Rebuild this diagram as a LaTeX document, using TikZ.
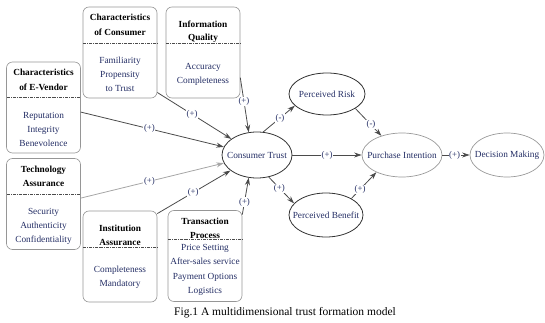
\documentclass[tikz,border=0pt]{standalone}
\usepackage{fontspec}
\setmainfont{Liberation Serif}
\usetikzlibrary{arrows.meta,shapes.geometric}
\definecolor{navy}{RGB}{35,45,100}
\definecolor{edge}{RGB}{75,75,75}
\definecolor{boxline}{RGB}{150,150,150}
\newcommand\nowidth[1]{\makebox[0pt]{#1}}
\begin{document}
\begin{tikzpicture}[x=1pt,y=-1pt,
  cbox/.style={draw=boxline, line width=0.6pt, rounded corners=6pt, inner sep=0pt, minimum width=74pt, minimum height=91pt},
  hdr/.style={font=\fontsize{9.3}{15}\selectfont\bfseries, align=center, inner sep=0pt},
  bdy/.style={font=\fontsize{9.3}{14}\selectfont, text=navy, align=center, inner sep=0pt},
  divl/.style={draw=black!70, line width=0.5pt, dash pattern=on 3pt off 1pt on 0.8pt off 1pt},
  ell/.style={ellipse, draw=black!80, line width=0.8pt, inner sep=0pt, font=\fontsize{9.3}{11}\selectfont, text=navy},
  lell/.style={ell, draw=black!40, line width=0.7pt},
  conn/.style={draw=edge, line width=0.8pt, -{Stealth[length=7.5pt,width=5pt]}},
  lbl/.style={fill=white, inner sep=0.6pt, font=\fontsize{8.8}{10}\selectfont, text=navy}
]
\useasboundingbox (0,0) rectangle (545,323);

% Characteristics of Consumer
\node[cbox] (cc) at (120,52.5) {};
\node[hdr] (cch) at (120,24.5) {Characteristics\\of Consumer};
\draw[divl] (83,43) -- (157,43);
\node[bdy] (ccb) at (120,74) {Familiarity\\Propensity\\to Trust};

% Information Quality
\node[cbox] (iq) at (203,52.5) {};
\node[hdr, font=\fontsize{9.3}{13}\selectfont\bfseries] (iqh) at (203,31.5) {Information\\Quality};
\draw[divl] (166,43) -- (240,43);
\node[bdy] (iqb) at (203,74) {Accuracy\\Completeness};

% Characteristics of E-Vendor
\node[cbox] (ev) at (43.5,107.5) {};
\node[hdr] (evh) at (43.5,79.5) {Characteristics\\of E-Vendor};
\draw[divl] (7,97) -- (80,97);
\node[bdy] (evb) at (43.5,129.5) {Reputation\\Integrity\\Benevolence};

% Technology Assurance
\node[cbox] (ta) at (43.5,204) {};
\node[hdr, font=\fontsize{9.3}{14}\selectfont\bfseries] (tah) at (43.5,176) {Technology\\Assurance};
\draw[divl] (7,194) -- (80,194);
\node[bdy] (tab) at (43.5,226) {Security\\Authenticity\\Confidentiality};

% Institution Assurance
\node[cbox] (ia) at (120,256.5) {};
\node[hdr, font=\fontsize{9.3}{14}\selectfont\bfseries] (iah) at (120,235) {Institution\\Assurance};
\draw[divl] (83,247) -- (157,247);
\node[bdy] (iab) at (120,277) {Completeness\\Mandatory};

% Transaction Process
\node[cbox] (tp) at (205,256) {};
\node[hdr, font=\fontsize{9.3}{14}\selectfont\bfseries] (tph) at (205,228) {Transaction\\Process};
\draw[divl] (168,239) -- (242,239);
\node[bdy, font=\fontsize{9.3}{14.2}\selectfont] (tpb) at (205,270) {Price Setting\\After-sales service\\Payment Options\\Logistics};

% Ellipses
\node[ell, minimum width=70pt, minimum height=46pt] (ct) at (257,155) {\nowidth{Consumer Trust}};
\node[ell, minimum width=76pt, minimum height=42pt] (pr) at (327,94) {\nowidth{Perceived Risk}};
\node[ell, minimum width=74pt, minimum height=44pt] (pb) at (326,215) {\nowidth{Perceived Benefit}};
\node[lell, minimum width=80pt, minimum height=44pt] (pi) at (402,155) {\nowidth{Purchase Intention}};
\node[lell, minimum width=74pt, minimum height=44pt] (dm) at (507,155) {\nowidth{Decision Making}};

% Connectors
\draw[conn] (ev.-7) -- node[lbl,pos=0.48]{(+)} (ct);
\draw[conn] (cc.-47.6) -- node[lbl,pos=0.47]{(+)} (ct);
\draw[conn] (iq.-34) -- node[lbl,pos=0.43]{(+)} (ct.110);
\draw[conn, draw=black!35] (ta.9) -- node[lbl,pos=0.48]{(+)} (ct);
\draw[conn] (ia.49) -- node[lbl,pos=0.49]{(+)} (ct);
\draw[conn] (tp.48) -- node[lbl,pos=0.34]{(+)} (ct.-110);
\draw[conn] (ct.75) -- node[lbl,pos=0.53]{(-)} (pr.200);
\draw[conn] (ct.-62) -- node[lbl,pos=0.42]{(+)} (pb.160);
\draw[conn] (ct) -- node[lbl,pos=0.5]{(+)} (pi);
\draw[conn] (pr.-27) -- node[lbl,pos=0.6]{(-)} (pi.137);
\draw[conn] (pb.33) -- node[lbl,pos=0.35]{(+)} (pi.214);
\draw[conn] (pi) -- node[lbl,pos=0.45]{(+)} (dm);

% Caption
\node[font=\fontsize{11.5}{13}\selectfont, inner sep=0pt] (cap) at (285,313) {Fig.1 A multidimensional trust formation model};
\end{tikzpicture}
\end{document}
